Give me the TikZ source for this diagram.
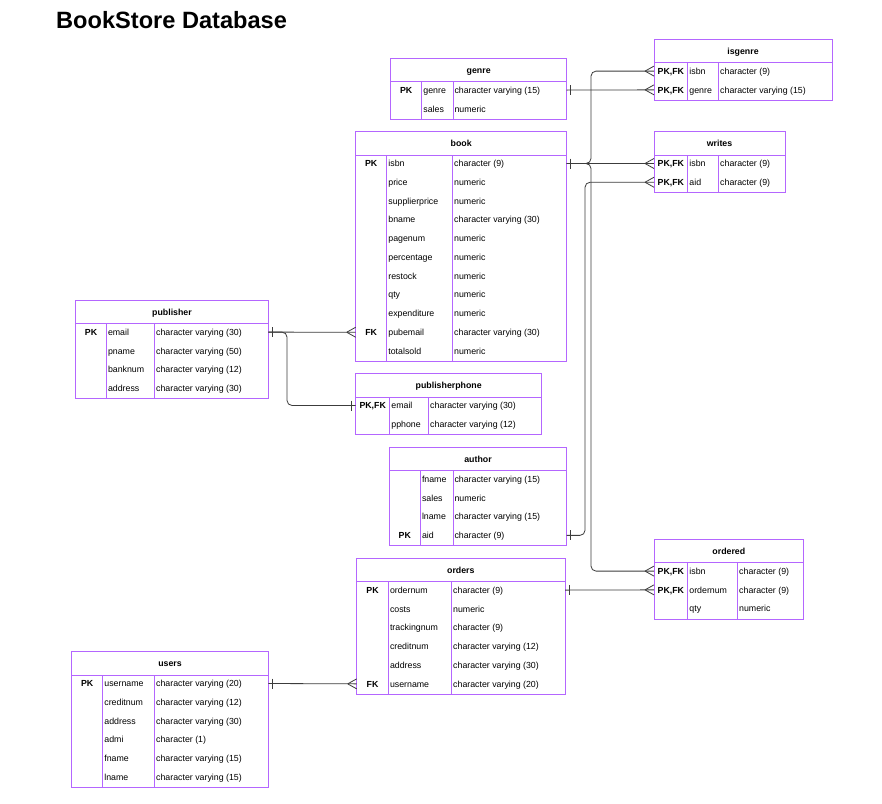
\documentclass[tikz,border=0pt]{standalone}
\usepackage{fontspec}
\setmainfont{Liberation Sans}
\definecolor{tblc}{RGB}{180,102,255}
\definecolor{conc}{RGB}{60,60,60}
\newcommand\pkfk{PK,FK}
\newcommand\ekey{}
\tikzset{
  tbl/.style={draw=tblc, line width=0.9pt},
  hdr/.style={font=\fontsize{8.8}{10}\selectfont\bfseries, inner sep=0pt, anchor=base},
  keyt/.style={font=\fontsize{8.8}{10}\selectfont\bfseries, inner sep=0pt, anchor=base},
  namet/.style={font=\fontsize{8.8}{10}\selectfont, inner sep=0pt, anchor=base west},
  typet/.style={font=\fontsize{8.8}{10}\selectfont, inner sep=0pt, anchor=base west},
  conn/.style={draw=conc, line width=0.8pt, rounded corners=5pt},
  cardmark/.style={draw=conc, line width=0.8pt},
}
\newcommand\ertable[9]{%
  \pgfmathsetmacro\yh{#4+23.5}%
  \pgfmathsetmacro\yb{\yh+18.75*#8}%
  \draw[tbl] (#2,#4) rectangle (#3,\yb);
  \draw[tbl] (#2,\yh) -- (#3,\yh) (#5,\yh) -- (#5,\yb) (#6,\yh) -- (#6,\yb);
  \node[hdr] (#1-title) at ({(#2+#3)/2},{#4+11.75+3.2}) {#7};
  \foreach \fk/\fn/\fty [count=\i] in {#9} {
    \pgfmathsetmacro\yy{\yh+8.3+18.75*(\i-1)}
    \pgfmathsetmacro\yt{\yy+3.2}
    \node[keyt] (#1-\fn-k) at ({(#2+#5)/2},\yt) {\fk};
    \node[namet] (#1-\fn-n) at (#5+1.5,\yt) {\fn};
    \node[typet] (#1-\fn-t) at (#6+1.3,\yt) {\fty};
    \coordinate (#1-\fn-l) at (#2,\yy);
    \coordinate (#1-\fn-r) at (#3,\yy);
  }
}
\newcommand\crowfoot[1]{\draw[cardmark] ([xshift=-9pt]#1) -- ([yshift=5pt]#1) ([xshift=-9pt]#1) -- ([yshift=-5pt]#1);}
\newcommand\barright[1]{\draw[cardmark] ([xshift=4pt,yshift=5pt]#1) -- ([xshift=4pt,yshift=-5pt]#1);}
\newcommand\barleft[1]{\draw[cardmark] ([xshift=-4pt,yshift=5pt]#1) -- ([xshift=-4pt,yshift=-5pt]#1);}
\begin{document}
\begin{tikzpicture}[x=1pt,y=-1pt]
\useasboundingbox[fill=white] (0,0) rectangle (882,803);
\node[anchor=base west, inner sep=0pt, font=\fontsize{23.6}{26}\selectfont\bfseries] (title) at (56,28.3) {BookStore Database};

\ertable{genre}{390.7}{566.7}{58.3}{421.7}{453}{genre}{2}{PK/genre/character varying (15), \ekey/sales/numeric}
\ertable{isgenre}{654}{832}{39.3}{687.7}{718.7}{isgenre}{2}{\pkfk/isbn/character (9), \pkfk/genre/character varying (15)}
\ertable{book}{355.7}{566.7}{131.7}{386.7}{452.7}{book}{11}{PK/isbn/character (9), \ekey/price/numeric, \ekey/supplierprice/numeric, \ekey/bname/character varying (30), \ekey/pagenum/numeric, \ekey/percentage/numeric, \ekey/restock/numeric, \ekey/qty/numeric, \ekey/expenditure/numeric, FK/pubemail/character varying (30), \ekey/totalsold/numeric}
\ertable{writes}{654}{785}{131.7}{687.7}{718.7}{writes}{2}{\pkfk/isbn/character (9), \pkfk/aid/character (9)}
\ertable{publisher}{75.7}{268.3}{300.3}{106.3}{154.7}{publisher}{4}{PK/email/character varying (30), \ekey/pname/character varying (50), \ekey/banknum/character varying (12), \ekey/address/character varying (30)}
\ertable{pphone}{355.7}{541.7}{373.7}{389.7}{428.7}{publisherphone}{2}{\pkfk/email/character varying (30), \ekey/pphone/character varying (12)}
\ertable{author}{389.3}{566.7}{447.3}{420.3}{453}{author}{4}{\ekey/fname/character varying (15), \ekey/sales/numeric, \ekey/lname/character varying (15), PK/aid/character (9)}
\ertable{ordered}{654}{803.7}{539.3}{687.7}{737.7}{ordered}{3}{\pkfk/isbn/character (9), \pkfk/ordernum/character (9), \ekey/qty/numeric}
\ertable{orders}{356.7}{565}{558.3}{388.3}{451.7}{orders}{6}{PK/ordernum/character (9), \ekey/costs/numeric, \ekey/trackingnum/character (9), \ekey/creditnum/character varying (12), \ekey/address/character varying (30), FK/username/character varying (20)}
\ertable{users}{71.7}{268.3}{651.7}{102.7}{154.7}{users}{6}{PK/username/character varying (20), \ekey/creditnum/character varying (12), \ekey/address/character varying (30), \ekey/admi/character (1), \ekey/fname/character varying (15), \ekey/lname/character varying (15)}

% connectors
\draw[conc, line width=0.8pt] (genre-genre-r) -- (isgenre-genre-l);
\draw[conn] (book-isbn-r) -- ++(24.3,0) |- (isgenre-isbn-l);
\draw[conc, line width=0.8pt] (book-isbn-r) -- (writes-isbn-l);
\draw[conn] (book-isbn-r) -- ++(24.3,0) |- (ordered-isbn-l);
\draw[conn] (author-aid-r) -- ++(18.3,0) |- (writes-aid-l);
\draw[conc, line width=0.8pt] (publisher-email-r) -- (book-pubemail-l);
\draw[conn] (publisher-email-r) -- ++(18.7,0) |- (pphone-email-l);
\draw[conc, line width=0.8pt] (orders-ordernum-r) -- (ordered-ordernum-l);
\draw[conc, line width=0.8pt] (users-username-r) -- (orders-username-l);

% one markers
\barright{genre-genre-r}
\barright{book-isbn-r}
\barright{author-aid-r}
\barright{publisher-email-r}
\barright{orders-ordernum-r}
\barright{users-username-r}
\barleft{pphone-email-l}
% many markers
\crowfoot{isgenre-isbn-l}
\crowfoot{isgenre-genre-l}
\crowfoot{writes-isbn-l}
\crowfoot{writes-aid-l}
\crowfoot{ordered-isbn-l}
\crowfoot{ordered-ordernum-l}
\crowfoot{book-pubemail-l}
\crowfoot{orders-username-l}
\end{tikzpicture}
\end{document}
